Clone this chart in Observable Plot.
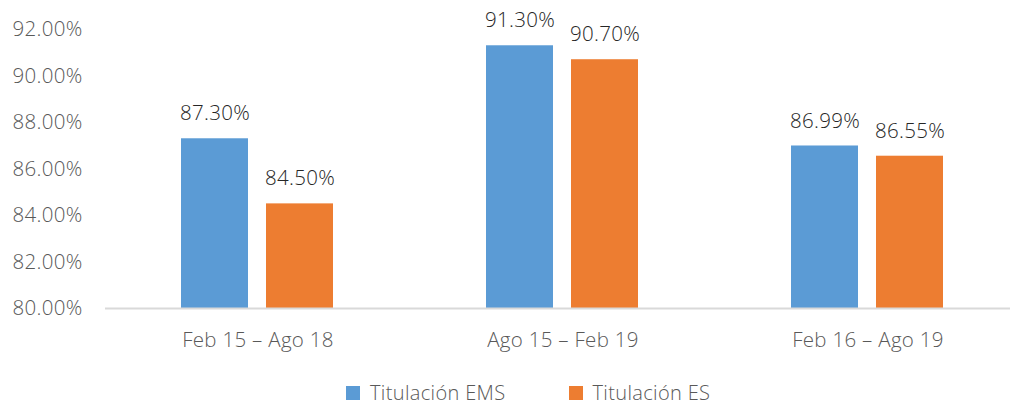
<!DOCTYPE html>
<html><head><meta charset="utf-8">
<script src="https://cdn.jsdelivr.net/npm/d3@7"></script>
<script src="https://cdn.jsdelivr.net/npm/@observablehq/plot@0.6"></script>
<style>
body{margin:0;background:#fff;font-family:"Open Sans",sans-serif;}
#wrap{position:relative;width:1010px;height:405px;overflow:hidden;}
#legend{position:absolute;left:346px;top:381px;height:24px;line-height:24px;display:flex;align-items:center;font-size:20px;font-weight:300;color:#595959;letter-spacing:0.35px;}
.item{display:flex;align-items:center;}
.sw{width:14px;height:14px;margin-right:10px;}
</style></head><body><div id="wrap"><div id="chart"></div><div id="legend"></div></div>
<script>
const categories = ["Feb 15 – Ago 18", "Ago 15 – Feb 19", "Feb 16 – Ago 19"];
const series = ["Titulación EMS", "Titulación ES"];
const emsValues = [0.873, 0.913, 0.8699];
const esValues = [0.845, 0.907, 0.8655];
const yTicks = [0.80, 0.82, 0.84, 0.86, 0.88, 0.90, 0.92];
const colors = ["#5B9BD5", "#ED7D31"];

const data = categories.flatMap((c, i) => [
  {cat: c, s: series[0], v: emsValues[i]},
  {cat: c, s: series[1], v: esValues[i]}
]);
const pct = d3.format(".2%");

const chart = Plot.plot({
  width: 1010,
  height: 370,
  marginLeft: 105,
  marginRight: 0,
  marginTop: 29,
  marginBottom: 62,
  style: {fontFamily: "Open Sans", background: "white", letterSpacing: "0.3px"},
  fx: {domain: categories, range: [105, 1020], padding: 0, label: null},
  x: {domain: series, paddingInner: 0.209, paddingOuter: 0.878, axis: null},
  y: {domain: [0.80, 0.92], label: null},
  color: {domain: series, range: colors},
  marks: [
    Plot.axisY({ticks: yTicks, tickFormat: ".2%", tickSize: 0, tickPadding: 23, fontSize: 20.5, fontWeight: 300, fill: "#595959", label: null}),
    Plot.axisFx({anchor: "bottom", tickSize: 0, tickPadding: 24, fontSize: 20.5, fontWeight: 300, fill: "#595959", label: null}),
    Plot.barY(data, {fx: "cat", x: "s", y1: 0.80, y2: "v", fill: "s"}),
    Plot.ruleY([0.80], {stroke: "#d9d9d9", strokeWidth: 2}),
    Plot.text(data, {fx: "cat", x: "s", y: "v", text: d => pct(d.v), dy: -25, fill: "#262626", fontSize: 20.5, fontWeight: 300})
  ]
});
document.getElementById("chart").appendChild(chart);

const legend = document.getElementById("legend");
series.forEach((s, i) => {
  const it = document.createElement("div");
  it.className = "item";
  if (i > 0) it.style.marginLeft = "63px";
  const sw = document.createElement("div");
  sw.className = "sw";
  sw.style.background = colors[i];
  const t = document.createElement("span");
  t.textContent = s;
  it.appendChild(sw); it.appendChild(t);
  legend.appendChild(it);
});
</script></body></html>
